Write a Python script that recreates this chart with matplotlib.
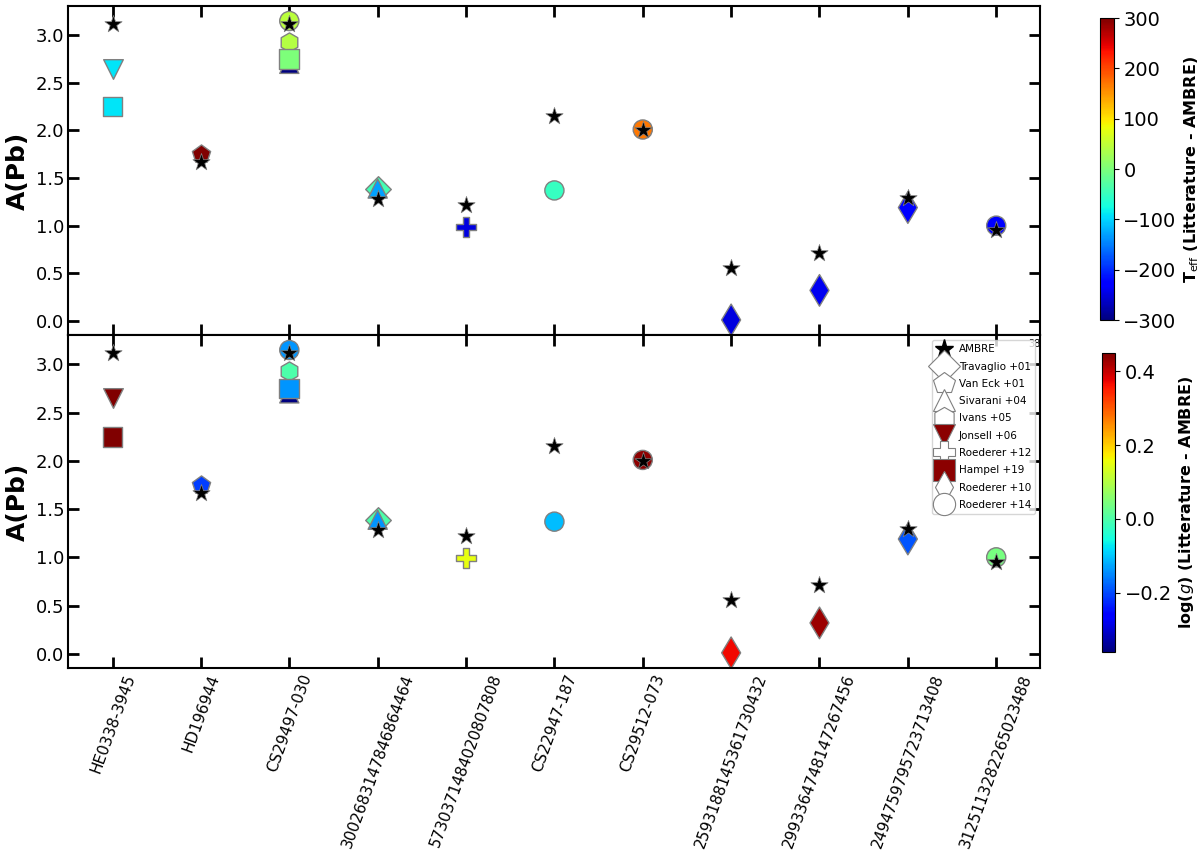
import matplotlib
matplotlib.use("Agg")
import matplotlib.pyplot as plt
from matplotlib.lines import Line2D

# stars on the x axis
names = ["HE0338-3945", "HD196944", "CS29497-030", "3002683147846864464",
         "5730371484020807808", "CS22947-187", "CS29512-073",
         "2593188145361730432", "2993364748147267456", "2494759795723713408",
         "3125113282265023488"]
ambre = [3.12, 1.67, 3.12, 1.28, 1.22, 2.15, 2.00, 0.56, 0.71, 1.29, 0.95]

# literature values: star index, A(Pb), dTeff, dlogg
ref_labels = ["Travaglio +01", "Van Eck +01", "Sivarani +04", "Ivans +05", "Jonsell +06",
              "Roederer +12", "Hampel +19", "Roederer +10", "Roederer +14"]
ref_markers = ["D", "p", "^", "h", "v", "P", "s", "d", "o"]
ref_idx = [[3], [1], [2, 3], [2], [0], [4], [0, 2], [7, 8, 9], [2, 5, 6, 10]]
ref_pb = [[1.39], [1.75], [2.70, 1.39], [2.93], [2.65], [0.99], [2.25, 2.75],
          [0.01, 0.32, 1.19], [3.15, 1.37, 2.01, 1.00]]
ref_dteff = [[-40], [300], [-300, -130], [40], [-90], [-250], [-90, 0],
             [-250, -240, -230], [45, -50, 170, -230]]
ref_dlogg = [[0.0], [-0.21], [-0.36, -0.14], [0.0], [0.45], [0.15], [0.45, -0.14],
             [0.37, 0.43, -0.19], [-0.14, -0.11, 0.44, 0.04]]

fig = plt.figure(figsize=(12, 8.63), dpi=100)
ax1 = fig.add_axes([0.057, 0.612, 0.81, 0.381])
ax2 = fig.add_axes([0.057, 0.226, 0.81, 0.386], sharex=ax1)
cax1 = fig.add_axes([0.917, 0.629, 0.011, 0.35])
cax2 = fig.add_axes([0.918, 0.245, 0.011, 0.346])

x = list(range(len(names)))
sizes = {"D": 170, "p": 190, "^": 190, "h": 190, "v": 200, "P": 190, "s": 200, "d": 260, "o": 190}

for ax, key, vmin, vmax in [(ax1, "teff", -300, 300), (ax2, "logg", -0.36, 0.45)]:
    for i in range(len(ref_labels)):
        cvals = ref_dteff[i] if key == "teff" else ref_dlogg[i]
        sc = ax.scatter(ref_idx[i], ref_pb[i], c=cvals, cmap="jet", vmin=vmin, vmax=vmax,
                        marker=ref_markers[i], s=sizes[ref_markers[i]],
                        edgecolors="grey", linewidths=1, zorder=2)
        if i == 0:
            mappable = sc
    ax.scatter(x, ambre, marker="*", s=170, c="black", edgecolors="grey",
               linewidths=0.5, zorder=3)
    ax.set_ylabel("A(Pb)", fontsize=18, fontweight="bold", labelpad=4)
    ax.tick_params(direction="in", length=8, width=2, top=True, right=True, labelsize=13, pad=3)
    for sp in ax.spines.values():
        sp.set_linewidth(1.5)
    if key == "teff":
        cb1 = fig.colorbar(mappable, cax=cax1)
    else:
        cb2 = fig.colorbar(mappable, cax=cax2)

ax1.set_xlim(-0.5, 10.5)
ax1.tick_params(labelbottom=False)
ax2.set_xticks(x)
ax2.set_xticklabels(names, rotation=70, fontsize=11)

cb1.set_ticks([-300, -200, -100, 0, 100, 200, 300])
cb1.ax.tick_params(labelsize=14)
cb1.set_label("T$_{\\rm eff}$ (Litterature - AMBRE)", fontsize=11.5, fontweight="bold")
cb2.set_ticks([-0.2, 0.0, 0.2, 0.4])
cb2.ax.tick_params(labelsize=14)
cb2.set_label("log($g$) (Litterature - AMBRE)", fontsize=11.5, fontweight="bold")

ax2.text(10.36, 3.18, "38", fontsize=7, zorder=1)

handles = [Line2D([], [], ls="none", marker="*", color="black", markersize=14, label="AMBRE")]
for i in range(len(ref_labels)):
    face = "darkred" if ref_labels[i] in ("Jonsell +06", "Hampel +19") else "white"
    handles.append(Line2D([], [], ls="none", marker=ref_markers[i], markersize=16,
                          markerfacecolor=face, markeredgecolor="grey",
                          markeredgewidth=0.8, label=ref_labels[i]))
leg = ax2.legend(handles=handles, loc="upper right", fontsize=7.5, handletextpad=0.6,
                 labelspacing=0.7, borderaxespad=0.5, handlelength=1.6)
leg.set_zorder(5)

fig.savefig("out.png", dpi=100)
